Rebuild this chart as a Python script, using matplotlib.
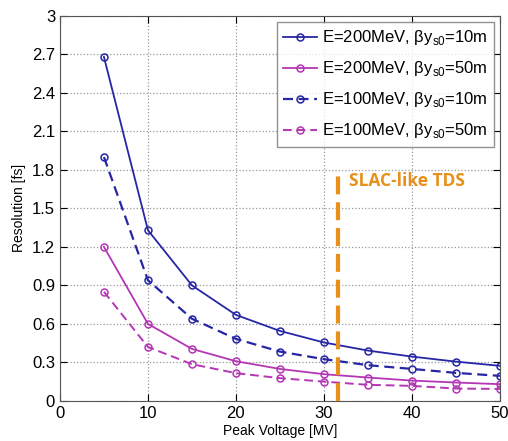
import numpy as np
import matplotlib.pyplot as plt

plt.rcParams['font.family'] = ['Liberation Sans', 'DejaVu Sans']
plt.rcParams['mathtext.fontset'] = 'custom'
plt.rcParams['mathtext.rm'] = 'Liberation Sans'

# peak voltage [MV]
voltage = [5, 10, 15, 20, 25, 30, 35, 40, 45, 50]

# resolution [fs]
res_200_10 = [2.68, 1.33, 0.90, 0.67, 0.545, 0.455, 0.392, 0.345, 0.306, 0.273]
res_200_50 = [1.20, 0.60, 0.405, 0.309, 0.249, 0.208, 0.182, 0.158, 0.143, 0.130]
res_100_10 = [1.90, 0.94, 0.64, 0.483, 0.384, 0.325, 0.278, 0.249, 0.218, 0.195]
res_100_50 = [0.85, 0.42, 0.286, 0.216, 0.177, 0.150, 0.125, 0.117, 0.096, 0.093]

labels = ['E=200MeV, βy$_{\\mathrm{s0}}$=10m',
          'E=200MeV, βy$_{\\mathrm{s0}}$=50m',
          'E=100MeV, βy$_{\\mathrm{s0}}$=10m',
          'E=100MeV, βy$_{\\mathrm{s0}}$=50m']

slac_voltage = 31.6

blue = '#2626a6'
magenta = '#b536b5'
orange = '#e8901a'

fig = plt.figure(figsize=(5.08, 4.41), dpi=100)
ax = fig.add_axes([0.118, 0.091, 0.866, 0.873])

ax.plot(voltage, res_200_10, '-o', c=blue, mfc='none', ms=5, lw=1.3, mew=1.1, label=labels[0])
ax.plot(voltage, res_200_50, '-o', c=magenta, mfc='none', ms=5, lw=1.3, mew=1.1, label=labels[1])
ax.plot(voltage, res_100_10, '--o', c=blue, mfc='none', ms=5, lw=1.6, mew=1.1,
        dashes=(4.5, 2.5), label=labels[2])
ax.plot(voltage, res_100_50, '--o', c=magenta, mfc='none', ms=5, lw=1.4, mew=1.1,
        dashes=(4.5, 2.5), label=labels[3])

# SLAC-like TDS marker
ax.plot([slac_voltage, slac_voltage], [0, 1.78], c=orange, lw=3, dashes=(4.3, 1.9), zorder=5)
ax.text(slac_voltage + 1.3, 1.71, 'SLAC-like TDS', color=orange, fontsize=12.5,
        fontweight='bold', va='center', ha='left', family=['Open Sans', 'DejaVu Sans'])

ax.set_xlim(0, 50)
ax.set_ylim(0, 3)
ax.set_xticks(np.arange(0, 51, 10))
ax.set_yticks(np.arange(0, 3.01, 0.3))
ax.set_yticklabels(['0', '0.3', '0.6', '0.9', '1.2', '1.5', '1.8', '2.1', '2.4', '2.7', '3'])
ax.tick_params(direction='in', labelsize=12, top=True, right=True, length=5, width=0.8)
ax.grid(linestyle=':', color='#999999', lw=0.9)
for s in ax.spines.values():
    s.set_color('#555555')

ax.set_xlabel('Peak Voltage [MV]', fontsize=10, labelpad=2)
ax.set_ylabel('Resolution [fs]', fontsize=10, labelpad=4)

leg = ax.legend(loc='upper right', fontsize=12, frameon=True, fancybox=False,
                borderaxespad=0.35, handlelength=2.0, handletextpad=0.3,
                labelspacing=0.72, borderpad=0.4)
leg.get_frame().set_edgecolor('#777777')
leg.get_frame().set_linewidth(1.0)

fig.savefig('out.png', dpi=100)
